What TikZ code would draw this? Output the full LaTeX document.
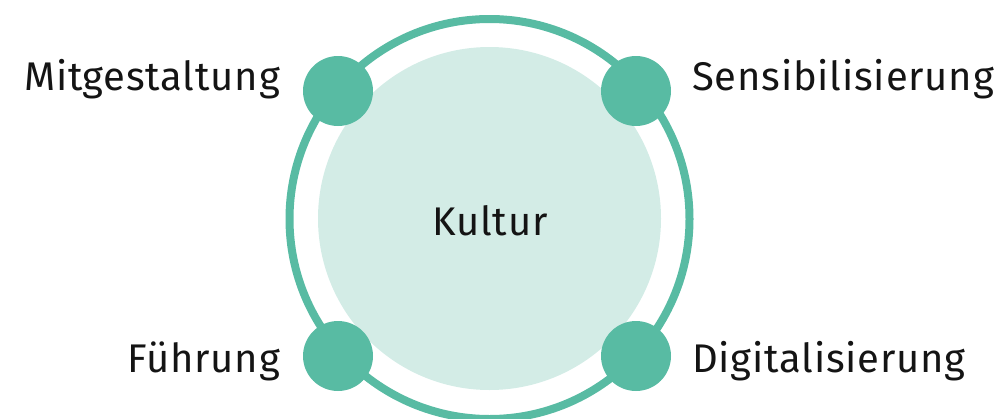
\documentclass[tikz,border=0pt]{standalone}
\usepackage{fontspec}
\setmainfont{Fira Sans}[LetterSpace=2]
\usepackage[RGB]{xcolor}
\usepackage{tikz}
\definecolor{ring}{RGB}{88,187,163}
\definecolor{core}{RGB}{211,236,230}
\definecolor{ink}{RGB}{20,20,20}
\tikzset{
  dot/.style={circle,fill=ring,minimum size=70pt,inner sep=0pt},
  word/.style={text=ink,font=\fontsize{40}{48}\selectfont,inner sep=0pt}
}

\begin{document}
\begin{tikzpicture}[x=1pt,y=-1pt]
\useasboundingbox (0,0) rectangle (998,418);
\clip (0,0) rectangle (998,418);
\fill[core] (489.5,218.5) circle (171.5pt);
\draw[ring,line width=8pt] (489.5,219) circle (200pt);
\node[dot] (mit) at (338,91) {};
\node[dot] (sens) at (636,91) {};
\node[dot] (fuehr) at (338,356) {};
\node[dot] (digi) at (636,356) {};
\node[word] (kultur) at (490,221) {Kultur};
\node[word,anchor=base east] (mitlabel) at (280,90) {Mitgestaltung};
\node[word,anchor=base west] (senslabel) at (692,90) {Sensibilisierung};
\node[word,anchor=base east] (fuehrlabel) at (280,372) {Führung};
\node[word,anchor=base west] (digilabel) at (692,372) {Digitalisierung};
\end{tikzpicture}
\end{document}
